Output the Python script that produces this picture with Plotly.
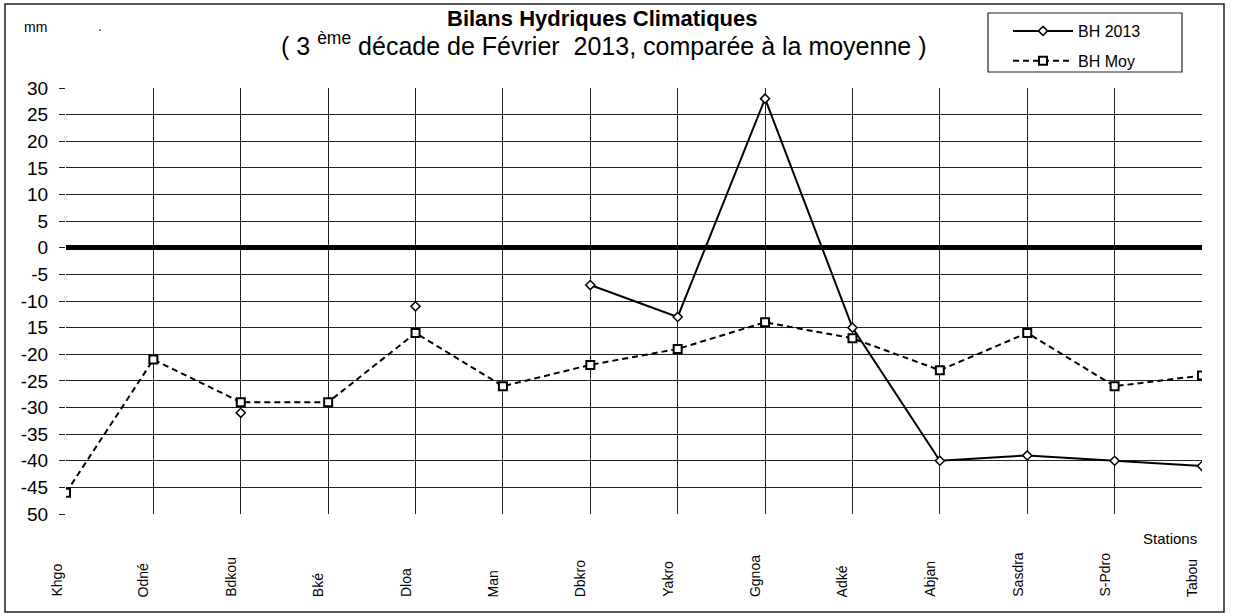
import plotly.graph_objects as go

stations = ["Khgo", "Odné", "Bdkou", "Bké", "Dloa", "Man", "Dbkro", "Yakro",
            "Ggnoa", "Adké", "Abjan", "Sasdra", "S-Pdro", "Tabou"]
bh_2013 = [None, None, -31, None, -11, None, -7, -13, 28, -15, -40, -39, -40, -41]
bh_moy = [-46, -21, -29, -29, -16, -26, -22, -19, -14, -17, -23, -16, -26, -24]
y_tickvals = [30, 25, 20, 15, 10, 5, 0, -5, -10, -15, -20, -25, -30, -35, -40, -45, -50]
y_ticktext = ["30", "25", "20", "15", "10", "5", "0", "-5", "-10", "15", "-20", "-25",
              "-30", "-35", "-40", "-45", "50"]

W, H = 1234, 616
L, R, T, B = 66, 32, 88, 102
PW, PH = W - L - R, H - T - B


def px(x):
    return (x - L) / PW


def py(y):
    return (H - B - y) / PH


FONT = "Liberation Sans, Arial, sans-serif"

fig = go.Figure()
fig.add_trace(go.Scatter(
    x=stations, y=bh_2013, name="BH 2013", mode="lines+markers",
    connectgaps=False, legendgroup="a",
    line=dict(color="black", width=2),
    marker=dict(symbol="diamond", size=7, color="white",
                line=dict(color="black", width=1.5)),
))
fig.add_trace(go.Scatter(
    x=stations, y=bh_moy, name="BH Moy", mode="lines+markers",
    legendgroup="b",
    line=dict(color="black", width=2, dash="6px,4px"),
    marker=dict(symbol="square", size=8, color="white",
                line=dict(color="black", width=2)),
))

annotations = [
    dict(text="<b>Bilans Hydriques Climatiques</b>", x=px(602), y=py(18),
         xref="paper", yref="paper", showarrow=False,
         font=dict(family=FONT, size=22, color="black"), xanchor="center", yanchor="middle"),
    dict(text="( 3 <sup>ème</sup> décade de Février  2013, comparée à la moyenne )",
         x=px(604), y=py(44), xref="paper", yref="paper", showarrow=False,
         font=dict(family=FONT, size=25, color="black"), xanchor="center", yanchor="middle"),
    dict(text="mm", x=px(22), y=py(27), xref="paper", yref="paper", showarrow=False,
         font=dict(family=FONT, size=14, color="black"), xanchor="left", yanchor="middle"),
    dict(text=".", x=px(96), y=py(26), xref="paper", yref="paper", showarrow=False,
         font=dict(family=FONT, size=14, color="black"), xanchor="left", yanchor="middle"),
    dict(text="Stations", x=px(1170), y=py(538), xref="paper", yref="paper", showarrow=False,
         font=dict(family=FONT, size=15, color="black"), xanchor="center", yanchor="middle"),
]
for s in stations:
    annotations.append(dict(
        text=s, x=s, y=py(599), xref="x", yref="paper", showarrow=False,
        textangle=-90, xanchor="center", yanchor="bottom", xshift=-10,
        font=dict(family=FONT, size=14, color="black")))

fig.update_layout(
    width=W, height=H,
    margin=dict(l=L, r=R, t=T, b=B),
    paper_bgcolor="white", plot_bgcolor="white",
    font=dict(family=FONT, color="black"),
    showlegend=True,
    legend=dict(x=px(1008), y=py(14), xanchor="left", yanchor="top",
                xref="paper", yref="paper",
                borderwidth=0, bgcolor="rgba(0,0,0,0)",
                font=dict(family=FONT, size=16, color="black"),
                tracegroupgap=6, itemwidth=60),
    annotations=annotations,
    shapes=[dict(type="rect", xref="paper", yref="paper",
                 x0=px(5), x1=px(1224), y0=py(4), y1=py(612),
                 line=dict(color="#222", width=1.5), layer="below"),
            dict(type="rect", xref="paper", yref="paper",
                 x0=px(988), x1=px(1182), y0=py(13), y1=py(72),
                 line=dict(color="#222", width=1.2), layer="below")],
    xaxis=dict(type="category", range=[0, len(stations) - 1],
               showgrid=True, gridcolor="#222", gridwidth=1,
               showticklabels=False, ticks="", zeroline=False,
               showline=False, fixedrange=True),
    yaxis=dict(range=[-50, 30], tickvals=y_tickvals, ticktext=y_ticktext,
               showgrid=True, gridcolor="#222", gridwidth=1,
               ticks="outside", ticklen=6, tickcolor="#222", tickwidth=1,
               ticklabelstandoff=7,
               tickfont=dict(family=FONT, size=19, color="black"),
               zeroline=True, zerolinecolor="black", zerolinewidth=5,
               showline=False, fixedrange=True),
)

fig.write_html("out.html", config={"displayModeBar": False},
               post_script="document.body.style.margin='0';document.body.style.padding='0';")
